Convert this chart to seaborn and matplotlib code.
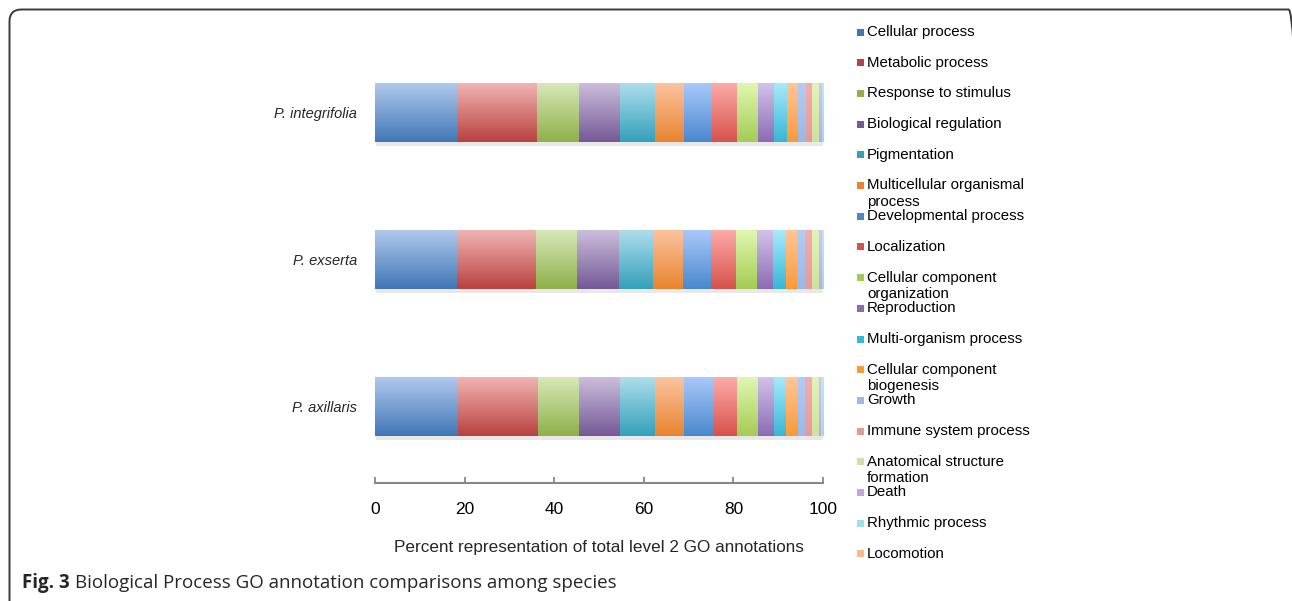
import matplotlib
matplotlib.use("Agg")
import matplotlib.colors as mcolors
import matplotlib.patheffects as pe
import matplotlib.pyplot as plt
import numpy as np
import seaborn as sns
from matplotlib.patches import FancyBboxPatch, Rectangle

# ── data (percent of level 2 GO annotations) ─────────────────────────────
species = ["P. integrifolia", "P. exserta", "P. axillaris"]
categories = [
    "Cellular process", "Metabolic process", "Response to stimulus",
    "Biological regulation", "Pigmentation", "Multicellular organismal process",
    "Developmental process", "Localization", "Cellular component organization",
    "Reproduction", "Multi-organism process", "Cellular component biogenesis",
    "Growth", "Immune system process", "Anatomical structure formation",
    "Death", "Rhythmic process", "Locomotion",
]
integrifolia = [18.45, 17.75, 9.3, 9.1, 7.8, 6.5, 6.3, 5.5, 4.9, 3.5, 2.8, 2.5, 1.7, 1.5, 1.6, 0.5, 0.2, 0.1]
exserta = [18.4, 17.5, 9.3, 9.2, 7.7, 6.6, 6.4, 5.4, 4.8, 3.5, 2.9, 2.6, 1.7, 1.5, 1.6, 0.6, 0.2, 0.1]
axillaris = [18.5, 17.8, 9.3, 9.1, 7.8, 6.5, 6.4, 5.5, 4.7, 3.5, 2.7, 2.6, 1.6, 1.5, 1.5, 0.6, 0.3, 0.1]

# Excel-style gradient fills (top light -> bottom dark)
top_colors = [
    "#B0C8EC", "#F0B4B3", "#D6E8B7", "#CBBDDC", "#ADDDEB", "#FCC39F",
    "#A9C8FA", "#FDAAA8", "#E0F7B0", "#D2C2EA", "#A6EAFB", "#FFC699",
    "#B3CCF5", "#F3ADAD", "#E3F2BC", "#D4C6EA", "#B9EBF8", "#FDD2B0",
]
bottom_colors = [
    "#4177B6", "#B9423F", "#8FB04A", "#755996", "#34A0BA", "#E8842F",
    "#4A88CE", "#D7524C", "#A5CB55", "#8B6CB3", "#37B7D6", "#F99A38",
    "#9BB8E6", "#E69A98", "#CDE29E", "#BFA9DB", "#A1DDEF", "#F8BA8A",
]
legend_labels = [
    "Cellular process", "Metabolic process", "Response to stimulus",
    "Biological regulation", "Pigmentation", "Multicellular organismal\nprocess",
    "Developmental process", "Localization", "Cellular component\norganization",
    "Reproduction", "Multi-organism process", "Cellular component\nbiogenesis",
    "Growth", "Immune system process", "Anatomical structure\nformation",
    "Death", "Rhythmic process", "Locomotion",
]

sns.set_theme(style="white")
plt.rcParams["font.family"] = ["Liberation Sans", "DejaVu Sans"]

W, H = 1292, 601
fig = plt.figure(figsize=(W / 100, H / 100), dpi=100)
ax = fig.add_axes([375 / W, 1 - 483 / H, 448 / W, 444 / H])

values = np.array([integrifolia, exserta, axillaris])
cum = values.cumsum(axis=1)

grad = np.linspace(0, 1, 64)[:, None, None]
for j, cat in enumerate(categories):
    n_before = len(ax.patches)
    sns.barplot(x=cum[:, j], y=species, orient="h", color=bottom_colors[j],
                saturation=1, width=0.4, errorbar=None, ax=ax)
    new = ax.patches[n_before:]
    for p, left, val in zip(new, cum[:, j] - values[:, j], values[:, j]):
        p.set_x(left)
        p.set_width(val)
        p.set_linewidth(0)
        p.set_path_effects([
            pe.SimplePatchShadow(offset=(1, -3), shadow_rgbFace="0.6", alpha=0.22),
            pe.Normal(),
        ])
        c_top = np.array(mcolors.to_rgb(top_colors[j]))
        c_bot = np.array(mcolors.to_rgb(bottom_colors[j]))
        img = c_top * (1 - grad) + c_bot * grad
        y0, h = p.get_y(), p.get_height()
        im = ax.imshow(img, extent=(left, left + val, y0 + h, y0), origin="upper",
                       aspect="auto", interpolation="bilinear", zorder=3)
        im.set_clip_path(p)

ax.set_xlim(0, 100)
ax.set_ylim(2.52, -0.5)
ax.set_xticks(range(0, 101, 20))
ax.set_ylabel("")
ax.set_xlabel("Percent representation of total level 2 GO annotations",
              fontsize=12.3, labelpad=16)
ax.tick_params(axis="x", direction="in", length=4, width=1.3, color="#888888",
               pad=14, labelsize=12.5, labelcolor="black", bottom=True)
ax.tick_params(axis="y", length=0, pad=13, labelsize=10.5)
for lbl in ax.get_yticklabels():
    lbl.set_style("italic")
for side in ["left", "top", "right"]:
    ax.spines[side].set_visible(False)
ax.spines["bottom"].set_color("#888888")
ax.spines["bottom"].set_linewidth(1.5)
ax.patch.set_alpha(0)

# ── legend (Excel style, manual placement) ───────────────────────────────
for k, lab in enumerate(legend_labels):
    y = 32 + k * 30.7
    fig.add_artist(Rectangle((857 / W, 1 - (y + 3.5) / H), 7 / W, 7 / H,
                             transform=fig.transFigure,
                             color=bottom_colors[k], lw=0))
    for li, line in enumerate(lab.split("\n")):
        fig.text(867 / W, 1 - (y + li * 16.5) / H, line, va="center",
                 ha="left", fontsize=10.8, color="black")

# ── frame and caption ────────────────────────────────────────────────────
frame = FancyBboxPatch((9.5, -30), 1291, H - 9.5 + 30,
                       boxstyle="round,pad=0,rounding_size=12",
                       transform=None, fill=False, lw=1.4, ec="#3a3a3a")
fig.add_artist(frame)

t1 = fig.text(22 / W, 1 - 583 / H, "Fig. 3", fontsize=13.5, weight="bold",
              va="center", family=["Open Sans", "DejaVu Sans"])
fig.canvas.draw()
bb = t1.get_window_extent()
fig.text((bb.x1 + 5) / W, 1 - 583 / H,
         "Biological Process GO annotation comparisons among species",
         fontsize=13.5, va="center", family=["Open Sans", "DejaVu Sans"])

fig.savefig("out.png", dpi=100)
